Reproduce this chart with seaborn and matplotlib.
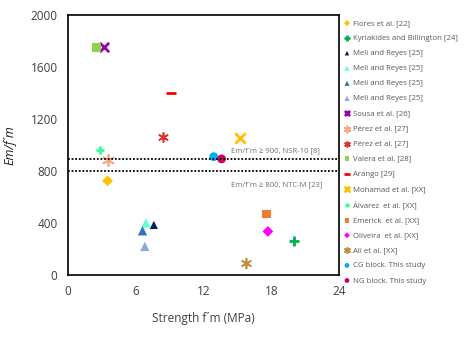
import matplotlib
matplotlib.use('Agg')
import matplotlib.pyplot as plt
import seaborn as sns
import pandas as pd

# data
studies = ['Flores et al. [22]', 'Kyriakides and Billington [24]', 'Meli and Reyes [25]',
           'Meli and Reyes [25]', 'Meli and Reyes [25]', 'Meli and Reyes [25]',
           'Sousa et al. [26]', 'Pérez et al. [27]', 'Pérez et al. [27]', 'Valera et al. [28]',
           'Arango [29]', 'Mohamad et al. [XX]', 'Álvarez  et al. [XX]', 'Emerick  et al. [XX]',
           'Oliveira  et al. [XX]', 'Ali et al. [XX]', 'CG block. This study', 'NG block. This study']
strength = [3.5, 20.0, 7.6, 6.9, 6.6, 6.8, 3.2, 3.5, 8.4, 2.5, 9.1, 15.2, 2.8, 17.6, 17.7, 15.8, 12.9, 13.6]
ratio = [725, 260, 385, 400, 340, 220, 1750, 885, 1062, 1750, 1400, 1050, 965, 470, 335, 90, 910, 893]
limits = [890, 800]
limit_labels = ['Em/f´m ≥ 900, NSR-10 [8]', 'Em/f´m ≥ 800, NTC-M [23]']

# styles
colors = ['#FFC000', '#00B050', '#002060', '#66FFD9', '#2E75B6', '#8EA9DB', '#9900AA', '#F4A582',
          '#E03030', '#92D050', '#FF0000', '#FFC000', '#33FF99', '#ED7D31', '#FF00FF', '#C09040',
          '#00B0F0', '#CC0066']
ast = (6, 2, 0)
markers = ['D', '+', '^', '^', '^', '^', 'x', ast, ast, 's', '_', 'x', '+', 's', 'D', ast, 'o', 'o']
sizes = [30, 50, 35, 45, 45, 45, 45, 70, 45, 40, 60, 55, 40, 40, 30, 50, 40, 40]

df = pd.DataFrame({'study': studies, 'x': strength, 'y': ratio})

sns.set_style('white')
plt.rcParams['font.family'] = ['Open Sans', 'DejaVu Sans']

fig = plt.figure(figsize=(4.7, 3.39), dpi=100)
ax = fig.add_axes([0.1447, 0.1888, 0.5766, 0.767])

for i, row in df.iterrows():
    m = markers[i]
    lw = 2 if m in ('+', 'x', '_') else 1.2
    if m in ('+', 'x', '_') or isinstance(m, tuple):
        sns.scatterplot(x=[row['x']], y=[row['y']], ax=ax, marker=m, color=colors[i],
                        s=sizes[i], linewidth=lw, label=row['study'])
    else:
        sns.scatterplot(x=[row['x']], y=[row['y']], ax=ax, marker=m, color=colors[i],
                        s=sizes[i], edgecolor='none', label=row['study'])

for v in limits:
    ax.axhline(v, color='black', linestyle=(0, (1, 1)), linewidth=1.3, zorder=1)
ax.text(14.4, limits[0] + 55, limit_labels[0], fontsize=5.5, color='#707070')
ax.text(14.4, limits[1] - 120, limit_labels[1], fontsize=5.5, color='#707070')

ax.set_xlim(0, 24)
ax.set_ylim(0, 2000)
ax.set_xticks([0, 6, 12, 18, 24])
ax.set_yticks([0, 400, 800, 1200, 1600, 2000])
ax.tick_params(axis='both', labelsize=8.5, colors='#404040', length=4, width=1, direction='out')
ax.tick_params(axis='both', color='#606060')
for s in ax.spines.values():
    s.set_color('black')
    s.set_linewidth(1.2)
ax.set_xlabel('Strength f´m (MPa)', fontsize=8.5, color='#404040', labelpad=10)
ax.set_ylabel('Em/f´m', fontsize=9, style='italic', color='#202020', labelpad=10)

ax.legend(loc='upper left', bbox_to_anchor=(0.995, 1.0), frameon=False, fontsize=5.6,
          labelcolor='#595959', handletextpad=0.2, borderaxespad=0.2, labelspacing=0.98,
          markerscale=0.55, handlelength=1.2)

fig.savefig('out.png', dpi=100)
